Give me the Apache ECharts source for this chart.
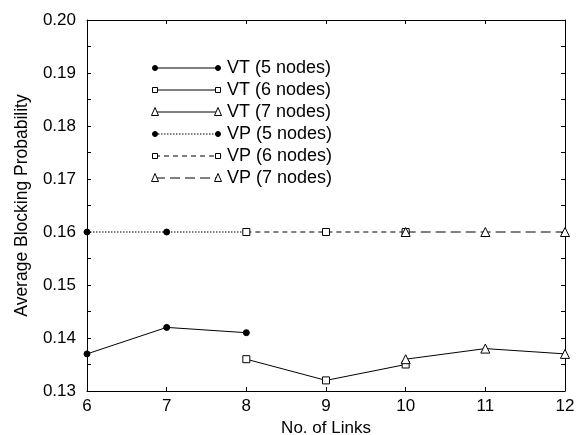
<!DOCTYPE html>
<html>
<head>
<meta charset="utf-8">
<script src="https://cdn.jsdelivr.net/npm/echarts@6/dist/echarts.min.js"></script>
<style>
  html, body { margin: 0; padding: 0; background: #fff; }
  #chart { width: 577px; height: 435px; }
</style>
</head>
<body>
<div id="chart"></div>
<script>
// values
const links5 = [6, 7, 8];
const links6 = [8, 9, 10];
const links7 = [10, 11, 12];
const vt5 = [0.137, 0.142, 0.141];
const vt6 = [0.136, 0.132, 0.135];
const vt7 = [0.136, 0.138, 0.137];
const vp5 = [0.16, 0.16, 0.16];
const vp6 = [0.16, 0.16, 0.16];
const vp7 = [0.16, 0.16, 0.16];

const names = ["VT (5 nodes)", "VT (6 nodes)", "VT (7 nodes)", "VP (5 nodes)", "VP (6 nodes)", "VP (7 nodes)"];
const xs = [links5, links6, links7, links5, links6, links7];
const ys = [vt5, vt6, vt7, vp5, vp6, vp7];

const font = "Liberation Sans, Arial, Helvetica, sans-serif";
const marks = ["circle", "rect", "triangle", "circle", "rect", "triangle"];
const markSize = [6, 7, 9, 6, 7, 9];
const legendSize = [5, 5, 7, 5, 5, 7];
const filled = [true, false, false, true, false, false];
const dashes = ["solid", "solid", "solid", [1.5, 1.5], [5, 4], [10, 5]];

const series = names.map((name, i) => ({
  name: name,
  type: "line",
  data: xs[i].map((x, j) => [x, ys[i][j]]),
  symbol: marks[i],
  symbolSize: markSize[i],
  showAllSymbol: true,
  lineStyle: { color: "#000", width: 1, type: dashes[i] },
  itemStyle: { color: filled[i] ? "#000" : "#fff", borderColor: "#000", borderWidth: 1 },
  emphasis: { disabled: true },
  z: i < 3 ? 3 : 2
}));

// legend drawn by hand: the original puts a marker at both ends of the sample line
const legendX0 = 155, legendX1 = 218, legendY0 = 68, legendStep = 22;
function legendMark(i, x, y) {
  const s = legendSize[i];
  const style = { fill: filled[i] ? "#000" : "#fff", stroke: "#000", lineWidth: 1 };
  if (marks[i] === "circle") {
    return { type: "circle", shape: { cx: x, cy: y, r: s / 2 }, style: style, z: 10 };
  }
  if (marks[i] === "rect") {
    return { type: "rect", shape: { x: x - s / 2, y: y - s / 2, width: s, height: s }, style: style, z: 10 };
  }
  return { type: "polygon", shape: { points: [[x, y - s / 2 - 1], [x + s / 2, y + s / 2], [x - s / 2, y + s / 2]] }, style: style, z: 10 };
}
const legendItems = [];
names.forEach((name, i) => {
  const y = legendY0 + i * legendStep;
  const dash = dashes[i] === "solid" ? null : dashes[i];
  legendItems.push({
    type: "line",
    shape: { x1: legendX0, y1: y, x2: legendX1, y2: y },
    style: { stroke: "#000", lineWidth: 1, lineDash: dash },
    z: 9
  });
  legendItems.push(legendMark(i, legendX0, y));
  legendItems.push(legendMark(i, legendX1, y));
  legendItems.push({
    type: "text",
    x: legendX1 + 9,
    y: y,
    style: { text: name, font: "18px " + font, fill: "#000", verticalAlign: "middle" },
    z: 10
  });
});

const chart = echarts.init(document.getElementById("chart"), null, { renderer: "canvas" });

const axisLine = { show: true, lineStyle: { color: "#000", width: 1 } };
const tickIn = { show: true, inside: true, length: 4, lineStyle: { color: "#000" } };
const minorIn = { show: true, splitNumber: 2, length: 4, lineStyle: { color: "#000" } };

chart.setOption({
  animation: false,
  backgroundColor: "#fff",
  grid: { left: 87, right: 12, top: 20, bottom: 44, containLabel: false, outerBoundsMode: "none" },
  xAxis: [
    {
      type: "value", min: 6, max: 12, interval: 1,
      name: "No. of Links", nameLocation: "middle", nameGap: 27,
      nameTextStyle: { fontFamily: font, fontSize: 17, color: "#000" },
      axisLine: axisLine, axisTick: tickIn, splitLine: { show: false },
      axisLabel: { fontFamily: font, fontSize: 17, color: "#000", margin: 7 }
    },
    {
      type: "value", position: "top", min: 6, max: 12, interval: 1,
      axisLine: axisLine, axisTick: tickIn, splitLine: { show: false },
      axisLabel: { show: false }
    }
  ],
  yAxis: [
    {
      type: "value", min: 0.13, max: 0.2, interval: 0.01,
      name: "Average Blocking Probability", nameLocation: "middle", nameGap: 56,
      nameTextStyle: { fontFamily: font, fontSize: 17.5, color: "#000" },
      axisLine: axisLine, axisTick: tickIn, minorTick: minorIn, splitLine: { show: false },
      axisLabel: { fontFamily: font, fontSize: 17, color: "#000", margin: 11, formatter: v => v.toFixed(2) }
    },
    {
      type: "value", position: "right", min: 0.13, max: 0.2, interval: 0.01,
      axisLine: axisLine, axisTick: tickIn, minorTick: minorIn, splitLine: { show: false },
      axisLabel: { show: false }
    }
  ],
  series: series,
  graphic: legendItems
});
</script>
</body>
</html>
